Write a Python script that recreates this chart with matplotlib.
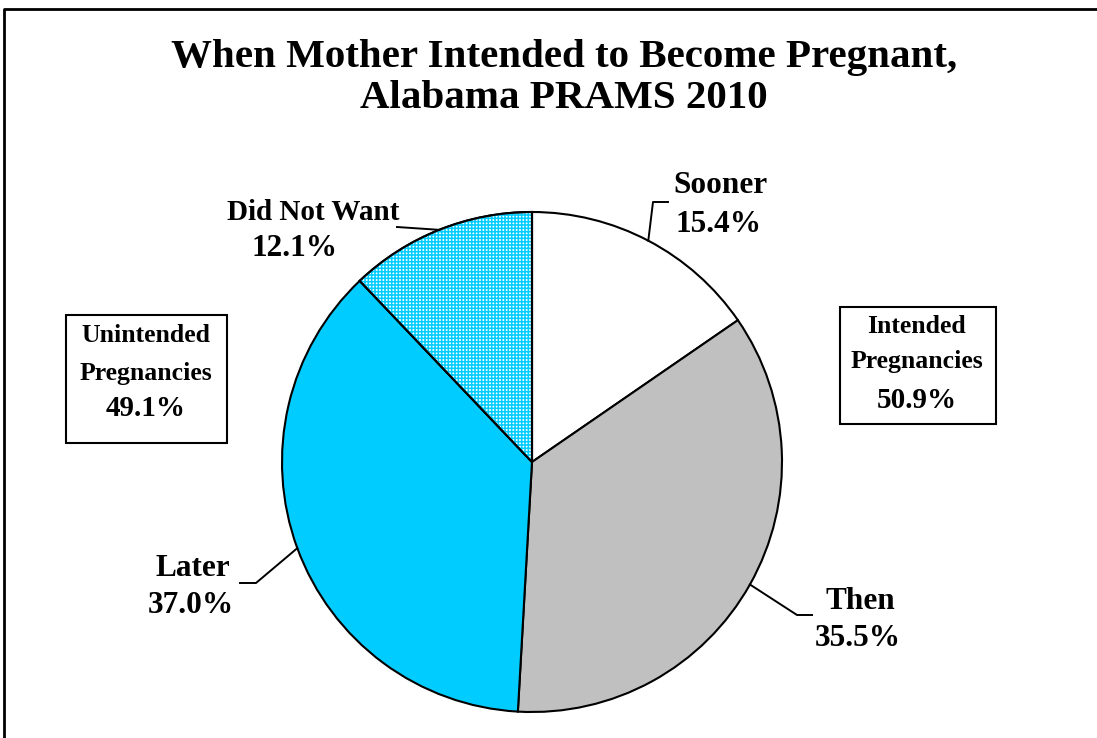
import numpy as np
import matplotlib.pyplot as plt
from matplotlib.patches import Rectangle, Wedge

# ==========================================================
# DATA
# ==========================================================

categories = ["Sooner", "Then", "Later", "Did Not Want"]
shares = [15.4, 35.5, 37.0, 12.1]
colors = ["white", "#C0C0C0", "#00CCFF", "white"]

group_names = [["Intended", "Pregnancies"], ["Unintended", "Pregnancies"]]
group_shares = [50.9, 49.1]

title_lines = ["When Mother Intended to Become Pregnant,", "Alabama PRAMS 2010"]

# ==========================================================
# FIGURE (axes in pixel units, y measured from top)
# ==========================================================

W, H = 1097, 738
plt.rcParams["hatch.linewidth"] = 1.1
fig = plt.figure(figsize=(W / 100, H / 100), dpi=100)
ax = fig.add_axes([0, 0, 1, 1])


def py(y):
    return H - y


serif = ["Liberation Serif", "DejaVu Serif"]
bold = dict(fontweight="bold", family=serif)

# ==========================================================
# PIE
# ==========================================================

cx, cy, R = 532, py(462), 250

wedges, _ = ax.pie(shares, colors=colors, startangle=90, counterclock=False,
                   center=(cx, cy), radius=R, frame=True,
                   wedgeprops=dict(edgecolor="black", linewidth=1.5))

# hatched fill for "Did Not Want" (cyan grid on white, black outline on top)
hw = wedges[3]
ax.add_patch(Wedge((cx, cy), R, hw.theta1, hw.theta2, facecolor="none",
                   edgecolor="#00CCFF", hatch="+++++", linewidth=0,
                   zorder=hw.get_zorder() + 0.1))
ax.add_patch(Wedge((cx, cy), R, hw.theta1, hw.theta2, facecolor="none",
                   edgecolor="black", linewidth=1.5,
                   zorder=hw.get_zorder() + 0.2))

ax.set_xlim(0, W)
ax.set_ylim(0, H)
ax.set_aspect("equal")
ax.axis("off")

# outer frame
ax.plot([4, 4, W], [py(H), py(9), py(9)], color="black", lw=2, clip_on=False)

# title (baselines)
for line, yb in zip(title_lines, [67, 108]):
    ax.text(564, py(yb), line, ha="center", va="baseline", fontsize=29.5, **bold)

# ==========================================================
# LABELS + LEADER LINES
# ==========================================================

# (x, baseline) of the name line and of the value line
name_pos = {
    "Sooner": (720, 193),
    "Then": (860, 609),
    "Later": (193, 576),
    "Did Not Want": (313, 220),
}
value_pos = {
    "Sooner": (719, 232),
    "Then": (858, 646),
    "Later": (191, 613),
    "Did Not Want": (294, 256),
}
elbows = {
    "Sooner": [(653, 202), (668, 202)],
    "Then": [(797, 615), (812, 615)],
    "Later": [(256, 583), (240, 583)],
    "Did Not Want": [(397, 227)],
}

for w, cat, val in zip(wedges, categories, shares):
    mid = np.deg2rad((w.theta1 + w.theta2) / 2)
    ax_x = cx + R * np.cos(mid)
    ax_y = cy + R * np.sin(mid)
    xs = [ax_x] + [p[0] for p in elbows[cat]]
    ys = [ax_y] + [py(p[1]) for p in elbows[cat]]
    ax.plot(xs, ys, color="black", lw=1.4, zorder=5)
    nx, ny = name_pos[cat]
    vx, vy = value_pos[cat]
    fs = 21 if cat == "Did Not Want" else 22.5
    ax.text(nx, py(ny), cat, ha="center", va="baseline", fontsize=fs, **bold)
    ax.text(vx, py(vy), f"{val:.1f}%", ha="center", va="baseline",
            fontsize=22.5, **bold)

# group boxes
boxes = [(840, 307, 996, 424), (66, 315, 227, 443)]
box_baselines = [(333, 368, 408), (342, 380, 416)]
for (x0, y0, x1, y1), name, val, bl in zip(boxes, group_names, group_shares,
                                           box_baselines):
    ax.add_patch(Rectangle((x0, py(y1)), x1 - x0, y1 - y0, facecolor="white",
                           edgecolor="black", lw=1.5, zorder=5))
    xc = (x0 + x1) / 2 - 1
    ax.text(xc, py(bl[0]), name[0], ha="center", va="baseline", fontsize=18.5,
            zorder=6, **bold)
    ax.text(xc, py(bl[1]), name[1], ha="center", va="baseline", fontsize=18.5,
            zorder=6, **bold)
    ax.text(xc, py(bl[2]), f"{val:.1f}%", ha="center", va="baseline",
            fontsize=21, zorder=6, **bold)

fig.savefig("out.png", dpi=100)
